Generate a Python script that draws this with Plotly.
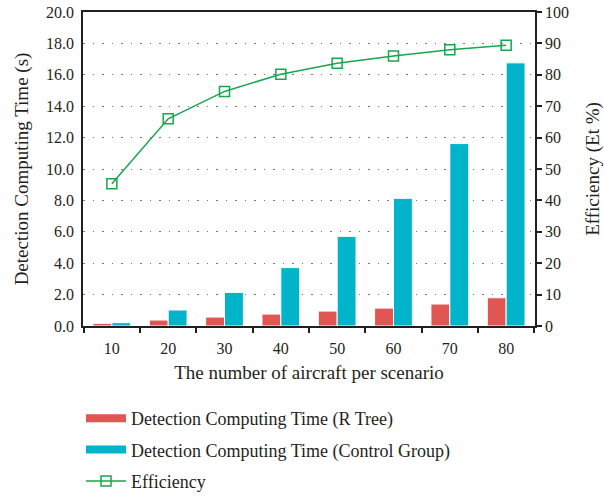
import plotly.graph_objects as go

categories = ["10", "20", "30", "40", "50", "60", "70", "80"]
rtree_time = [0.17, 0.38, 0.57, 0.76, 0.95, 1.14, 1.40, 1.80]
control_time = [0.21, 1.02, 2.14, 3.72, 5.71, 8.13, 11.62, 16.76]
efficiency = [45.3, 66.0, 74.7, 80.2, 83.7, 86.0, 88.0, 89.4]

RED = "#e05652"
CYAN = "#00b5c9"
GREEN = "#17a64e"
INK = "#231f20"
FONT = "Liberation Serif"

W, H = 604, 496

fig = go.Figure()
fig.add_trace(go.Bar(x=categories, y=rtree_time, marker=dict(color=RED, line=dict(color="white", width=1)),
                     showlegend=False, name="Detection Computing Time (R Tree)"))
fig.add_trace(go.Bar(x=categories, y=control_time, marker=dict(color=CYAN, line=dict(color="white", width=1)),
                     showlegend=False, name="Detection Computing Time (Control Group)"))
fig.add_trace(go.Scatter(x=categories, y=efficiency, yaxis="y2", mode="lines+markers",
                         line=dict(color=GREEN, width=1.5),
                         marker=dict(symbol="square-open", size=10, color=GREEN, line=dict(width=1.5)),
                         name="Efficiency", showlegend=False))
# legend proxies
fig.add_trace(go.Scatter(x=[None], y=[None], mode="lines", line=dict(color=RED, width=8),
                         name="Detection Computing Time (R Tree)", legendgroup="a"))
fig.add_trace(go.Scatter(x=[None], y=[None], mode="lines", line=dict(color=CYAN, width=8),
                         name="Detection Computing Time (Control Group)", legendgroup="b"))
fig.add_trace(go.Scatter(x=[None], y=[None], mode="lines+markers", line=dict(color=GREEN, width=1.5),
                         marker=dict(symbol="square-open", size=10, color=GREEN, line=dict(width=1.5)),
                         name="Efficiency", legendgroup="c"))

fig.update_layout(
    width=W, height=H,
    margin=dict(l=83, r=69, t=12, b=170, autoexpand=False),
    paper_bgcolor="white", plot_bgcolor="white",
    font=dict(family=FONT, size=16, color=INK),
    barmode="group", bargap=0.33, bargroupgap=0.0,
    xaxis=dict(type="category", showline=True, linecolor=INK, linewidth=1.5, mirror=True,
               ticks="outside", tickson="boundaries", ticklen=5, tickcolor=INK, tickwidth=1.5,
               ticklabelstandoff=7,
               showgrid=False, automargin=False,
               title=dict(text="The number of aircraft per scenario", standoff=10)),
    yaxis=dict(range=[0, 20], dtick=2, tickformat=".1f", showline=True, linecolor=INK, linewidth=1.5,
               ticks="", showgrid=True, gridcolor="#777777", gridwidth=1.2, griddash="1.5px,8px",
               ticklabelstandoff=4, ticklabeloverflow="allow",
               zeroline=False, automargin=False,
               title=dict(text="Detection Computing Time (s)", standoff=12)),
    yaxis2=dict(range=[0, 100], dtick=10, overlaying="y", side="right", showline=True, linecolor=INK,
                linewidth=1.5, ticks="outside", ticklen=5, tickcolor=INK, tickwidth=1.5,
                ticklabeloverflow="allow",
                showgrid=False, zeroline=False, automargin=False,
                title=dict(text="Efficiency (Et %)", standoff=26)),
    legend=dict(x=-2 / 452, xanchor="left", yref="container", y=1 - 400 / H, yanchor="top",
                orientation="v", itemwidth=40,
                traceorder="grouped", tracegroupgap=5, font=dict(size=18),
                bgcolor="rgba(0,0,0,0)"),
)

fig.write_html("out.html", config={"displayModeBar": False},
               post_script="document.body.style.margin='0';")
